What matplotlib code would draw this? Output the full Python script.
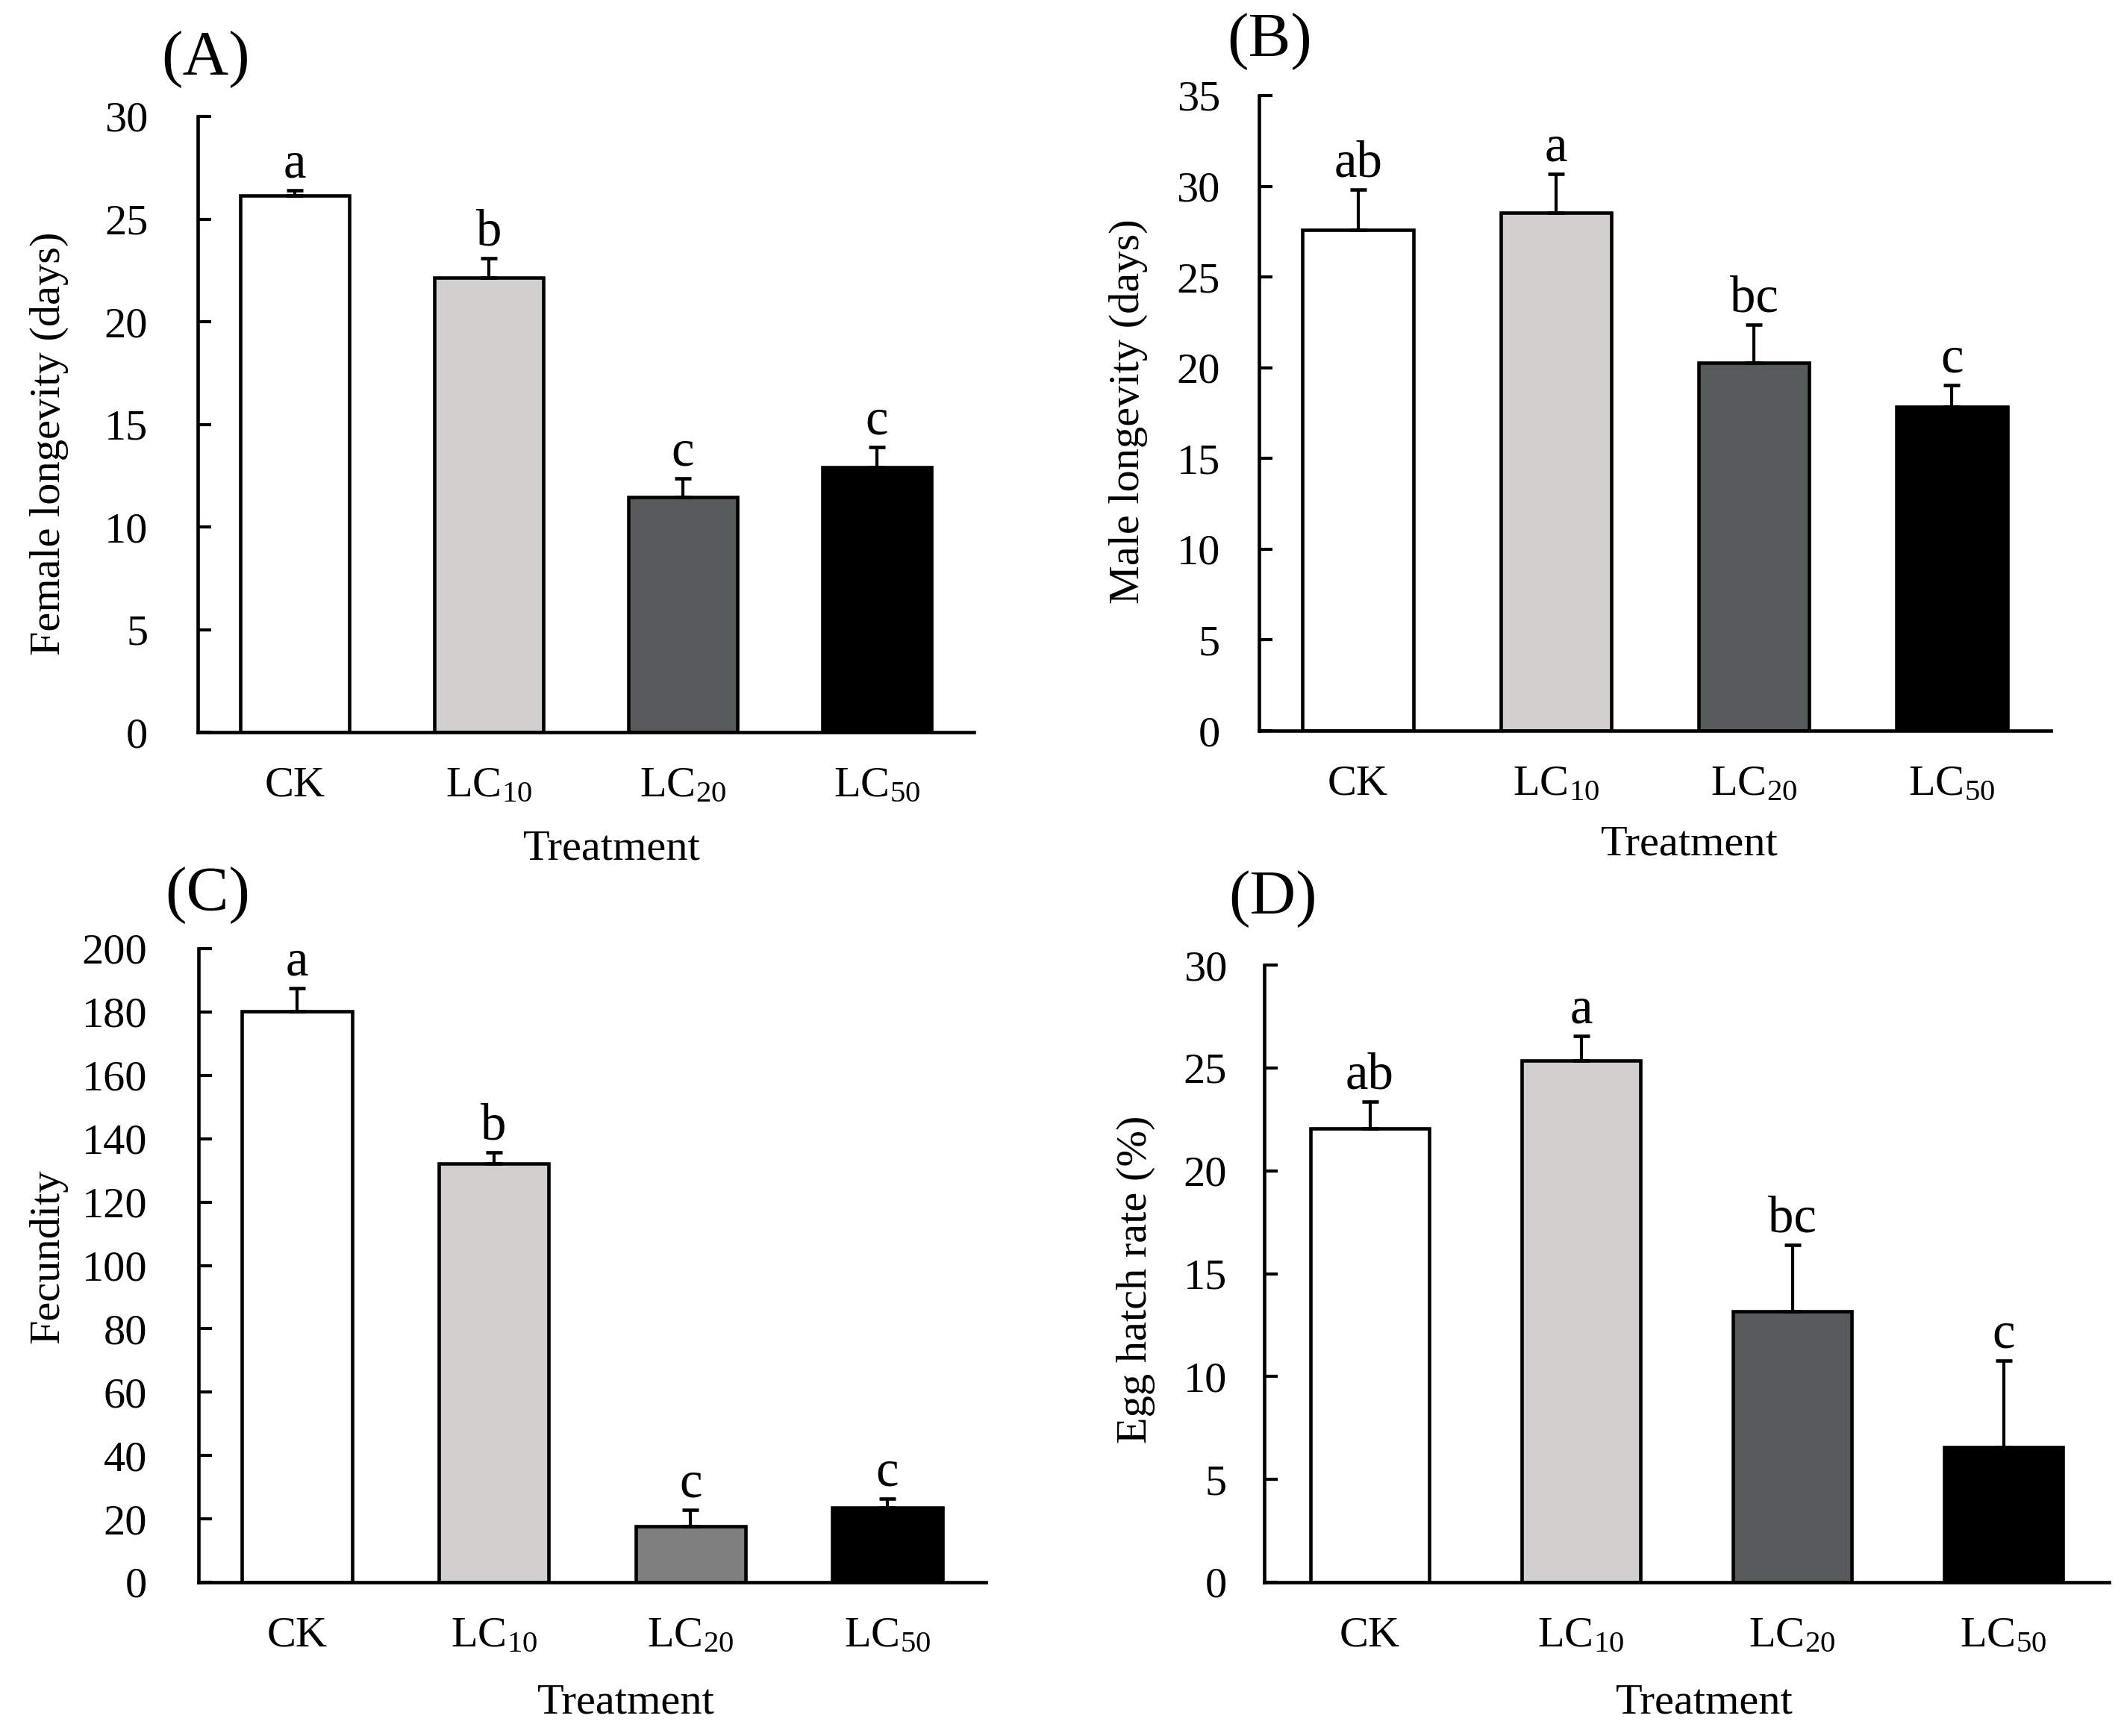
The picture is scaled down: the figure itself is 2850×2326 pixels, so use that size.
import numpy as np
import matplotlib
matplotlib.use("Agg")
import matplotlib.pyplot as plt

plt.rcParams['font.family'] = ['Liberation Serif', 'DejaVu Serif']
plt.rcParams['mathtext.fontset'] = 'custom'
plt.rcParams['mathtext.rm'] = 'Liberation Serif'
plt.rcParams['mathtext.default'] = 'regular'

# data
treatments = [r'$\mathregular{CK}$', r'$\mathregular{LC_{10}}$',
              r'$\mathregular{LC_{20}}$', r'$\mathregular{LC_{50}}$']

female_mean = [26.15, 22.13, 11.45, 12.92]
female_se = [0.25, 0.97, 0.92, 0.96]
female_sig = ['a', 'b', 'c', 'c']

male_mean = [27.6, 28.55, 20.28, 17.85]
male_se = [2.2, 2.15, 2.08, 1.2]
male_sig = ['ab', 'a', 'bc', 'c']

fecundity_mean = [180.2, 132.1, 17.6, 23.6]
fecundity_se = [7.3, 3.6, 5.2, 2.8]
fecundity_sig = ['a', 'b', 'c', 'c']

hatch_mean = [22.07, 25.37, 13.18, 6.56]
hatch_se = [1.3, 1.2, 3.2, 4.2]
hatch_sig = ['ab', 'a', 'bc', 'c']

colors_std = ['#ffffff', '#d1d0cf', '#565a5a', '#000000']
colors_c = ['#ffffff', '#d1d0cf', '#7f7f7f', '#000000']

W, H = 2850, 2326
fig = plt.figure(figsize=(W / 300, H / 300), dpi=300)


def px_axes(l, t, r, b):
    return fig.add_axes([l / W, 1 - b / H, (r - l) / W, (b - t) / H])


def fig_text(x, y, s, **kw):
    fig.text(x / W, 1 - y / H, s, **kw)


def panel(ax, means, errs, sig, colors, ymax, ystep, ypad):
    x = np.arange(len(means))
    ax.bar(x, means, width=0.56, color=colors, edgecolor='black',
           linewidth=1.1, zorder=2)
    ax.errorbar(x, means, yerr=[np.zeros(len(errs)), errs], fmt='none',
                ecolor='black', elinewidth=1.0, capsize=2.6, capthick=1.1,
                zorder=3)
    for xi, m, e, s in zip(x, means, errs, sig):
        ax.annotate(s, (xi, m + e), xytext=(0, 4.2), textcoords='offset points',
                    ha='center', va='baseline', fontsize=16.5)
    ax.set_xlim(-0.5, 3.5)
    ax.set_ylim(0, ymax)
    ax.set_yticks(np.arange(0, ymax + ystep / 2, ystep))
    ax.set_xticks(x)
    ax.set_xticklabels(treatments)
    for side in ['top', 'right']:
        ax.spines[side].set_visible(False)
    for side in ['left', 'bottom']:
        ax.spines[side].set_linewidth(1.1)
    ax.tick_params(axis='y', direction='in', length=4.3, width=1.0,
                   labelsize=14, pad=ypad)
    ax.tick_params(axis='x', length=0, labelsize=14, pad=11)


axA = px_axes(265, 156, 1305, 981)
panel(axA, female_mean, female_se, female_sig, colors_std, 30, 5, 16)
axB = px_axes(1687, 128, 2748, 979)
panel(axB, male_mean, male_se, male_sig, colors_std, 35, 5, 12.5)
axC = px_axes(266, 1271, 1321, 2120)
panel(axC, fecundity_mean, fecundity_se, fecundity_sig, colors_c, 200, 20, 16.5)
axD = px_axes(1694, 1293, 2826, 2120)
panel(axD, hatch_mean, hatch_se, hatch_sig, colors_std, 30, 5, 12)

# panel letters
fig_text(276, 100, '(A)', fontsize=20.5, ha='center', va='baseline')
fig_text(1701, 76, '(B)', fontsize=20.5, ha='center', va='baseline')
fig_text(278, 1220, '(C)', fontsize=20.5, ha='center', va='baseline')
fig_text(1705, 1225, '(D)', fontsize=20.5, ha='center', va='baseline')

# axis titles
fig_text(66, 594, 'Female longevity (days)', fontsize=14, rotation=90,
         ha='center', va='center')
fig_text(1512, 551, 'Male longevity (days)', fontsize=14, rotation=90,
         ha='center', va='center')
fig_text(64, 1683, 'Fecundity', fontsize=14, rotation=90,
         ha='center', va='center')
fig_text(1522, 1714, 'Egg hatch rate (%)', fontsize=14, rotation=90,
         ha='center', va='center')

fig_text(820, 1152, 'Treatment', fontsize=14, ha='center', va='baseline')
fig_text(2264, 1146, 'Treatment', fontsize=14, ha='center', va='baseline')
fig_text(839, 2295, 'Treatment', fontsize=14, ha='center', va='baseline')
fig_text(2284, 2295, 'Treatment', fontsize=14, ha='center', va='baseline')

fig.savefig('out.png', dpi=300)
